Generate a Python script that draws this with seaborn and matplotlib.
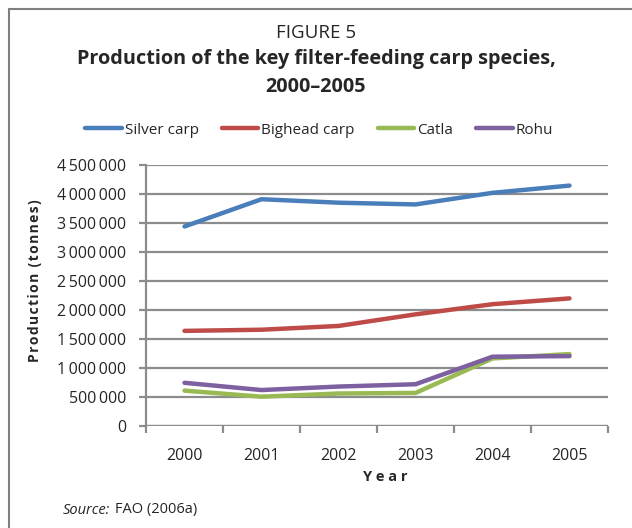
import pandas as pd
import matplotlib.pyplot as plt
import seaborn as sns
from matplotlib.lines import Line2D
from matplotlib.ticker import FuncFormatter

# Data
years = [2000, 2001, 2002, 2003, 2004, 2005]
silver_carp = [3440000, 3910000, 3850000, 3820000, 4020000, 4145000]
bighead_carp = [1640000, 1660000, 1725000, 1925000, 2100000, 2200000]
catla = [610000, 505000, 560000, 570000, 1165000, 1240000]
rohu = [745000, 620000, 680000, 720000, 1195000, 1205000]

species = ['Silver carp', 'Bighead carp', 'Catla', 'Rohu']
colors = ['#4a7ebb', '#be4b48', '#98b954', '#7d60a0']

df = pd.DataFrame({'Year': years, 'Silver carp': silver_carp, 'Bighead carp': bighead_carp,
                   'Catla': catla, 'Rohu': rohu})
long_df = df.melt(id_vars='Year', var_name='Species', value_name='Production')

sns.set_theme(style='white')
plt.rcParams['font.family'] = ['Open Sans', 'DejaVu Sans']

fig = plt.figure(figsize=(6.32, 5.28), dpi=100)
ax = fig.add_axes([146 / 632, 1 - 426 / 528, (608 - 146) / 632, (426 - 165) / 528])

sns.lineplot(data=long_df, x='Year', y='Production', hue='Species', hue_order=species,
             palette=colors, linewidth=3.2, ax=ax, legend=False, zorder=3)

# Axis styling
grid_col = '#8c8c8c'
ax.set_ylim(0, 4500000)
ax.set_xlim(1999.5, 2005.5)
ax.set_yticks(range(0, 4500001, 500000))
ax.yaxis.set_major_formatter(FuncFormatter(lambda v, p: f'{int(v):,}'.replace(',', '\u2009')))
ax.set_xticks(years)
ax.set_xticks([y - 0.5 for y in years] + [2005.5], minor=True)
ax.grid(axis='y', color=grid_col, linewidth=1.6, zorder=0)
ax.grid(axis='x', visible=False)
for side in ['top', 'right', 'bottom']:
    ax.spines[side].set_visible(False)
ax.spines['left'].set_color(grid_col)
ax.spines['left'].set_linewidth(1.6)
ax.axhline(0, color=grid_col, linewidth=1.6, zorder=1)
ax.tick_params(axis='y', which='major', length=5, width=1.6, color=grid_col, labelsize=11.5, pad=9, left=True)
ax.tick_params(axis='x', which='major', length=0, labelsize=11.5, pad=16)
ax.tick_params(axis='x', which='minor', length=5, width=1.6, color=grid_col, bottom=True)

ax.set_xlabel('Y e a r', fontsize=10.5, fontweight='bold')
ax.xaxis.set_label_coords((385 - 146) / 462, -(470 - 426) / 261)
ax.set_ylabel('\u200a'.join('Production (tonnes)'), fontsize=10, fontweight='bold')
ax.yaxis.set_label_coords(-(146 - 42) / 462, 0.555)

# Titles
fig.text(0.5, 1 - 33 / 528, 'FIGURE 5', ha='center', va='center', fontsize=13.5)
fig.text(0.5, 1 - 59 / 528, 'Production of the key filter-feeding carp species,',
         ha='center', va='center', fontsize=14.3, fontweight='bold')
fig.text(0.5, 1 - 87 / 528, '2000\u20132005', ha='center', va='center', fontsize=14.3, fontweight='bold')

# Legend
handles = [Line2D([0], [0], color=c, linewidth=3.2) for c in colors]
fig.legend(handles, species, loc='center', bbox_to_anchor=(0.505, 1 - 130 / 528), ncol=4,
           frameon=False, fontsize=11, handlelength=2.4, handletextpad=0.2, columnspacing=1.5)

# Source
fig.text(63 / 632, 1 - 510 / 528, 'Source:', style='italic', fontsize=10.5, va='center')
fig.text(115 / 632, 1 - 510 / 528, 'FAO (2006a)', fontsize=10.5, va='center')

# Frame (top and left border)
fig.add_artist(Line2D([9 / 632, 9 / 632], [0, 1 - 9 / 528], color='#808080', linewidth=1.5))
fig.add_artist(Line2D([9 / 632, 1], [1 - 9 / 528, 1 - 9 / 528], color='#808080', linewidth=1.5))

fig.savefig('out.png', dpi=100)
